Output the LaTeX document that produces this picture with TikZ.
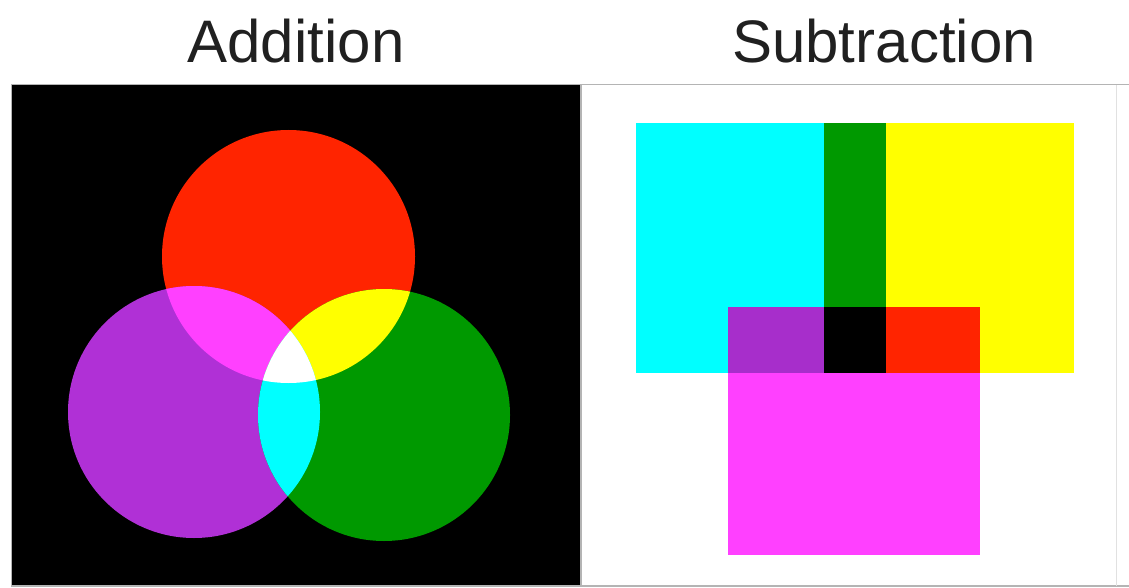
\documentclass[tikz,border=0pt]{standalone}
\usepackage{fontspec}
\setmainfont{Liberation Sans}
\definecolor{cRed}{HTML}{FF2400}
\definecolor{cPurple}{HTML}{B030D6}
\definecolor{cGreen}{HTML}{009900}
\definecolor{cMagenta}{HTML}{FF40FF}
\definecolor{cCyan}{HTML}{00FFFF}
\definecolor{cYellow}{HTML}{FFFF00}
\definecolor{cFrame}{HTML}{B4B4B4}
\definecolor{cText}{HTML}{202020}
\tikzset{
  title/.style={font=\fontsize{60}{72}\selectfont, text=cText, anchor=base, inner sep=0pt},
}
\begin{document}
\begin{tikzpicture}[x=1pt,y=-1pt]
\useasboundingbox (0,0) rectangle (1129,588);
\fill[white] (0,0) rectangle (1129,588);
% titles
\node[title] (addt) at (296,63) {Addition};
\node[title] (subt) at (884,63) {Subtraction};
% left panel
\fill[black] (12,85) rectangle (581,586);
\draw[cFrame, line width=1.5pt] (11.5,84.5) rectangle (581,586);
\draw[cFrame, line width=1.5pt] (581,84.5) -- (1129,84.5);
\draw[cFrame, line width=1.5pt] (581,586) -- (1129,586);
\draw[cFrame!40, line width=1pt] (1116,85) -- (1116,586);
% circles
\def\rc{(288.5,256.5) circle[radius=126.5]}
\def\pc{(194,412) circle[radius=126]}
\def\gc{(384,415) circle[radius=126]}
\fill[cRed] \rc;
\fill[cPurple] \pc;
\fill[cGreen] \gc;
\begin{scope}\clip \rc; \fill[cMagenta] \pc; \fill[cYellow] \gc; \end{scope}
\begin{scope}\clip \pc; \fill[cCyan] \gc; \end{scope}
\begin{scope}\clip \rc; \clip \pc; \fill[white] \gc; \end{scope}
% right panel
\fill[cCyan] (636,123) rectangle (886,373);
\fill[cYellow] (824,123) rectangle (1074,373);
\fill[cGreen] (824,123) rectangle (886,373);
\fill[cMagenta] (728,307) rectangle (980,555);
\fill[cPurple!95!black] (728,307) rectangle (824,373);
\fill[black] (824,307) rectangle (886,373);
\fill[cRed] (886,307) rectangle (980,373);
\end{tikzpicture}
\end{document}
